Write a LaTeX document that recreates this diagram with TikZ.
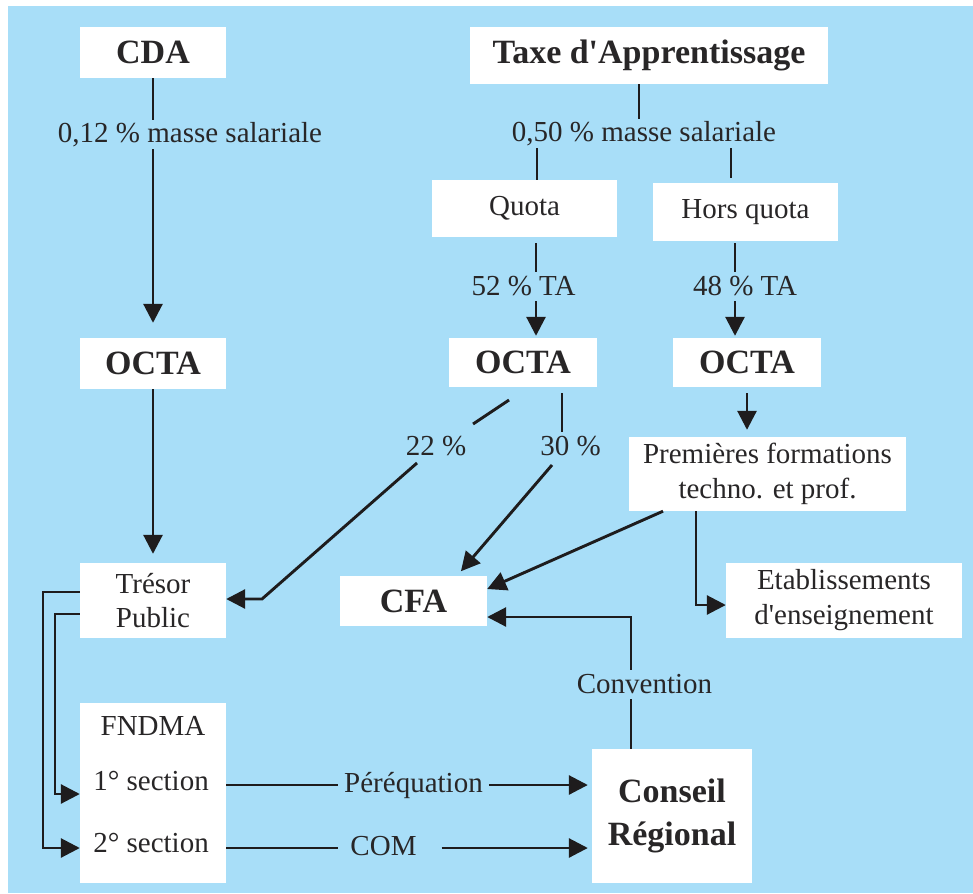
\documentclass[tikz,border=0pt]{standalone}
\usepackage{fontspec}
\setmainfont{Liberation Serif}
\usetikzlibrary{arrows.meta,calc}
\definecolor{bgblue}{RGB}{168,222,248}
\definecolor{ink}{RGB}{30,28,29}
\definecolor{txt}{RGB}{40,38,39}
\begin{document}
\begin{tikzpicture}[x=1pt,y=-1pt,
  box/.style={fill=white,draw=none,inner sep=0pt,text=txt,align=center},
  bigf/.style={font=\fontsize{34}{40}\selectfont\bfseries},
  regf/.style={font=\fontsize{29}{35}\selectfont},
  lab/.style={regf,text=txt,inner xsep=6pt,inner ysep=3pt,text height=20pt,text depth=3pt,anchor=base},
  conn/.style={draw=ink,line width=2.9pt},
  arr/.style={conn,-{Triangle[length=19pt,width=19pt]}},
]
% background
\fill[white] (0,0) rectangle (973,893);
\fill[bgblue] (8,6) rectangle (973,893);
\useasboundingbox (0,0) rectangle (973,893);

% nodes
\node[box,bigf,minimum width=146pt,minimum height=51pt] (cda) at (153,52.5) {CDA};
\node[box,bigf,minimum width=358pt,minimum height=57pt] (taxe) at (649,55.5) {Taxe d\textquotesingle Apprentissage};
\node[lab] (lab1) at (190,143) {0,12 \% masse salariale};
\node[lab] (lab2) at (644,142) {0,50 \% masse salariale};
\node[box,regf,minimum width=185pt,minimum height=57pt] (quota) at (524.5,208.5) {Quota};
\node[box,regf,minimum width=185pt,minimum height=58pt] (hors) at (745.5,212) {Hors quota};
\node[lab] (lab52) at (523.5,295) {52 \% TA};
\node[lab] (lab48) at (745,295) {48 \% TA};
\node[box,bigf,minimum width=146pt,minimum height=51pt] (octaL) at (153,363.5) {OCTA};
\node[box,bigf,minimum width=148pt,minimum height=49pt] (octaM) at (523,362.5) {OCTA};
\node[box,bigf,minimum width=148pt,minimum height=49pt] (octaR) at (747,362.5) {OCTA};
\node[box,regf,minimum width=277pt,minimum height=74pt] (prem) at (767.5,474) {Premières formations\\techno. et prof.};
\node[lab] (lab22) at (436,455) {22 \%};
\node[lab] (lab30) at (570.5,455) {30 \%};
\node[box,regf,font=\fontsize{29}{34}\selectfont,minimum width=146pt,minimum height=75pt] (tresor) at (153,600.5) {Trésor\\Public};
\node[box,bigf,minimum width=147pt,minimum height=50pt] (cfa) at (413.5,601) {CFA};
\node[box,regf,minimum width=236pt,minimum height=75pt] (etab) at (844,600.5) {Etablissements\\d\textquotesingle enseignement};
\node[lab] (conv) at (644.5,693) {Convention};
\node[box,minimum width=146pt,minimum height=180pt] (fndma) at (153,793) {};
\node[regf,text=txt,anchor=base] (fnt) at (153,735) {FNDMA};
\node[regf,text=txt,anchor=base] (s1) at (151,790) {1° section};
\node[regf,text=txt,anchor=base] (s2) at (151,852) {2° section};
\node[lab] (pereq) at (413.5,792) {Péréquation};
\node[lab,inner xsep=12pt] (com) at (383.5,855) {COM};
\node[box,font=\fontsize{34}{43}\selectfont\bfseries,minimum width=160pt,minimum height=134pt] (conseil) at (672,816) {Conseil\\Régional};

% helper coordinates
\coordinate (xT) at (639,0);
\coordinate (xQ) at (537,0);
\coordinate (xH) at (731,0);
\coordinate (xQ2) at (536,0);
\coordinate (xH2) at (735,0);
\coordinate (x30) at (562,0);
\coordinate (a30) at (552,465);
\coordinate (t30) at (457,0);
\coordinate (a22) at (509,400);
\coordinate (b22) at (473,424);
\coordinate (c22) at (417,463);
\coordinate (d22) at (262,599);
\coordinate (xP) at (663,0);
\coordinate (yPC) at (0,589);
\coordinate (xE) at (696,0);
\coordinate (yE) at (0,605);
\coordinate (xC) at (631,0);
\coordinate (yC) at (0,617);
\coordinate (yT1) at (0,592);
\coordinate (yT2) at (0,614);
\coordinate (o1) at (43,848);
\coordinate (o2) at (55,794);
\coordinate (yP) at (0,785);
\coordinate (yM) at (0,848);

% connectors
\draw[conn] (cda.south) -- (cda.south |- lab1.north);
\draw[arr,shorten >=15pt] (lab1.south -| cda.south) -- (octaL.north);
\draw[arr,shorten >=9pt] (octaL.south) -- (tresor.north);
\draw[conn] (taxe.south -| xT) -- (lab2.north -| xT);
\draw[conn] (lab2.south -| xQ) -- (quota.north -| xQ);
\draw[conn,shorten >=5pt] (lab2.south -| xH) -- (hors.north -| xH);
\draw[conn,shorten <=6pt] (quota.south -| xQ2) -- (lab52.north -| xQ2);
\draw[arr,shorten >=2pt] (lab52.south -| xQ2) -- (octaM.north -| xQ2);
\draw[conn,shorten <=2pt] (hors.south -| xH2) -- (lab48.north -| xH2);
\draw[arr,shorten >=2pt] (lab48.south -| xH2) -- (octaR.north -| xH2);
\draw[arr,shorten <=6pt,shorten >=7pt] (octaR.south) -- (prem.north -| octaR.south);
\draw[conn,shorten <=6pt] (octaM.south -| x30) -- (lab30.north -| x30);
\draw[arr,shorten >=6pt] (a30) -- (cfa.north -| t30);
\draw[conn] (a22) -- (b22);
\draw[arr] (c22) -- (d22) -- (tresor.east |- d22);
\draw[arr] (prem.south -| xP) -- (cfa.east |- yPC);
\draw[arr] (prem.south -| xE) |- (etab.west |- yE);
\draw[conn] (conseil.north -| xC) -- (conv.south -| xC);
\draw[arr] (conv.north -| xC) |- (cfa.east |- yC);
\draw[arr] (tresor.west |- yT1) -| (o1) -- (fndma.west |- o1);
\draw[arr] (tresor.west |- yT2) -| (o2) -- (fndma.west |- o2);
\draw[conn] (fndma.east |- yP) -- (pereq.west |- yP);
\draw[arr,shorten >=4pt] (pereq.east |- yP) -- (conseil.west |- yP);
\draw[conn] (fndma.east |- yM) -- (com.west |- yM);
\draw[arr,shorten <=13pt,shorten >=4pt] (com.east |- yM) -- (conseil.west |- yM);
\end{tikzpicture}
\end{document}
